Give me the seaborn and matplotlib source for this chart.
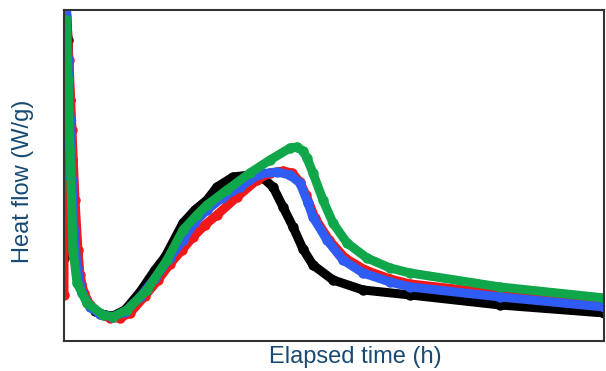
import numpy as np
import pandas as pd
import seaborn as sns
import matplotlib.pyplot as plt

"""
Heat flow curves read off the calorimetry chart
"""
hours_black = [0, 0.18, 0.36, 0.53, 0.71, 0.89, 1.16, 1.51, 2.04, 2.76, 3.64, 4.36, 5.42, 6.76, 8.09,
               8.98, 10.58, 11.64, 12.71, 13.6, 15.02, 16.53, 17.69, 18.58, 19.47, 20.36, 21.24, 22.13,
               23.91, 26.58, 30.76, 38.76, 48.0]
flow_black = [0.83, 3.40, 3.01, 2.41, 1.81, 1.31, 0.86, 0.56, 0.39, 0.30, 0.26, 0.25, 0.31, 0.49, 0.71,
              0.84, 1.18, 1.31, 1.41, 1.54, 1.64, 1.66, 1.63, 1.54, 1.34, 1.14, 0.92, 0.76, 0.61, 0.51,
              0.46, 0.36, 0.28]

hours_red = [0, 0, 0.18, 0.44, 0.71, 0.98, 1.24, 1.42, 1.78, 2.31, 3.2, 4.09, 4.98, 5.87, 7.2, 8.36,
             9.42, 10.49, 11.47, 12.53, 13.6, 15.38, 17.16, 18.31, 19.47, 20.27, 20.98, 21.51, 22.31,
             23.56, 24.98, 26.76, 28.98, 30.76, 38.76, 48.0]
flow_red = [0.46, 0.91, 3.40, 2.81, 2.11, 1.41, 0.91, 0.66, 0.48, 0.36, 0.27, 0.23, 0.23, 0.28, 0.45,
            0.61, 0.77, 0.91, 1.04, 1.16, 1.26, 1.44, 1.61, 1.68, 1.70, 1.68, 1.59, 1.46, 1.23, 1.01,
            0.83, 0.71, 0.62, 0.57, 0.47, 0.37]

hours_blue = [0, 0.18, 0.36, 0.53, 0.71, 0.89, 1.16, 1.6, 2.31, 3.2, 4.27, 5.42, 6.76, 8.09, 9.42,
              10.58, 11.64, 12.71, 14.04, 15.64, 17.42, 18.93, 20.09, 20.98, 21.69, 22.13, 23.38, 24.8,
              26.58, 28.98, 30.76, 38.76, 48.0]
flow_blue = [1.66, 3.40, 2.81, 2.21, 1.61, 1.11, 0.73, 0.48, 0.34, 0.27, 0.24, 0.29, 0.44, 0.63, 0.83,
             1.01, 1.19, 1.31, 1.43, 1.54, 1.67, 1.69, 1.66, 1.58, 1.38, 1.24, 1.01, 0.81, 0.68, 0.59,
             0.54, 0.44, 0.34]

hours_green = [0, 0.18, 0.36, 0.53, 0.8, 1.16, 2.04, 3.47, 4.36, 5.6, 7.38, 9.16, 10.58, 11.82, 12.71,
               14.49, 16.53, 18.31, 20.09, 20.71, 21.24, 21.6, 22.13, 23.02, 23.91, 25.16, 26.93, 28.98,
               30.76, 38.76, 48.0]
flow_green = [2.71, 3.21, 2.61, 1.91, 0.91, 0.58, 0.38, 0.26, 0.24, 0.31, 0.51, 0.81, 1.11, 1.26, 1.36,
              1.51, 1.68, 1.81, 1.93, 1.94, 1.90, 1.83, 1.68, 1.41, 1.18, 0.98, 0.83, 0.73, 0.68, 0.54,
              0.43]

series = [
    (hours_black, flow_black, '#000000'),
    (hours_red, flow_red, '#f01818'),
    (hours_blue, flow_blue, '#2f5cf5'),
    (hours_green, flow_green, '#10a64a'),
]

sns.set_style('white')
plt.rcParams['font.family'] = ['Liberation Sans', 'DejaVu Sans']

fig = plt.figure(figsize=(6.06, 3.71), dpi=100)
ax = fig.add_axes([0.1056, 0.081, 0.891, 0.892])

for hrs, flow, col in series:
    df = pd.DataFrame({'Elapsed time (h)': hrs, 'Heat flow (W/g)': flow})
    sns.lineplot(data=df, x='Elapsed time (h)', y='Heat flow (W/g)', sort=False, estimator=None,
                 color=col, linewidth=6.5, marker='o', markersize=7.5, markeredgewidth=0, ax=ax)

ax.set_xlim(0, 48)
ax.set_ylim(0, 3.31)
ax.set_xticks([])
ax.set_yticks([])

lab_color = '#174a74'
ax.set_xlabel('Elapsed time (h)', fontsize=17, color=lab_color)
ax.xaxis.set_label_coords(0.54, -0.015, transform=ax.transAxes)
ax.xaxis.label.set_va('top')
ax.set_ylabel('Heat flow (W/g)', fontsize=17, color=lab_color)
ax.yaxis.set_label_coords(-0.055, 0.483, transform=ax.transAxes)

for s in ax.spines.values():
    s.set_color('#333333')
    s.set_linewidth(1.5)

fig.savefig('out.png', dpi=100)
